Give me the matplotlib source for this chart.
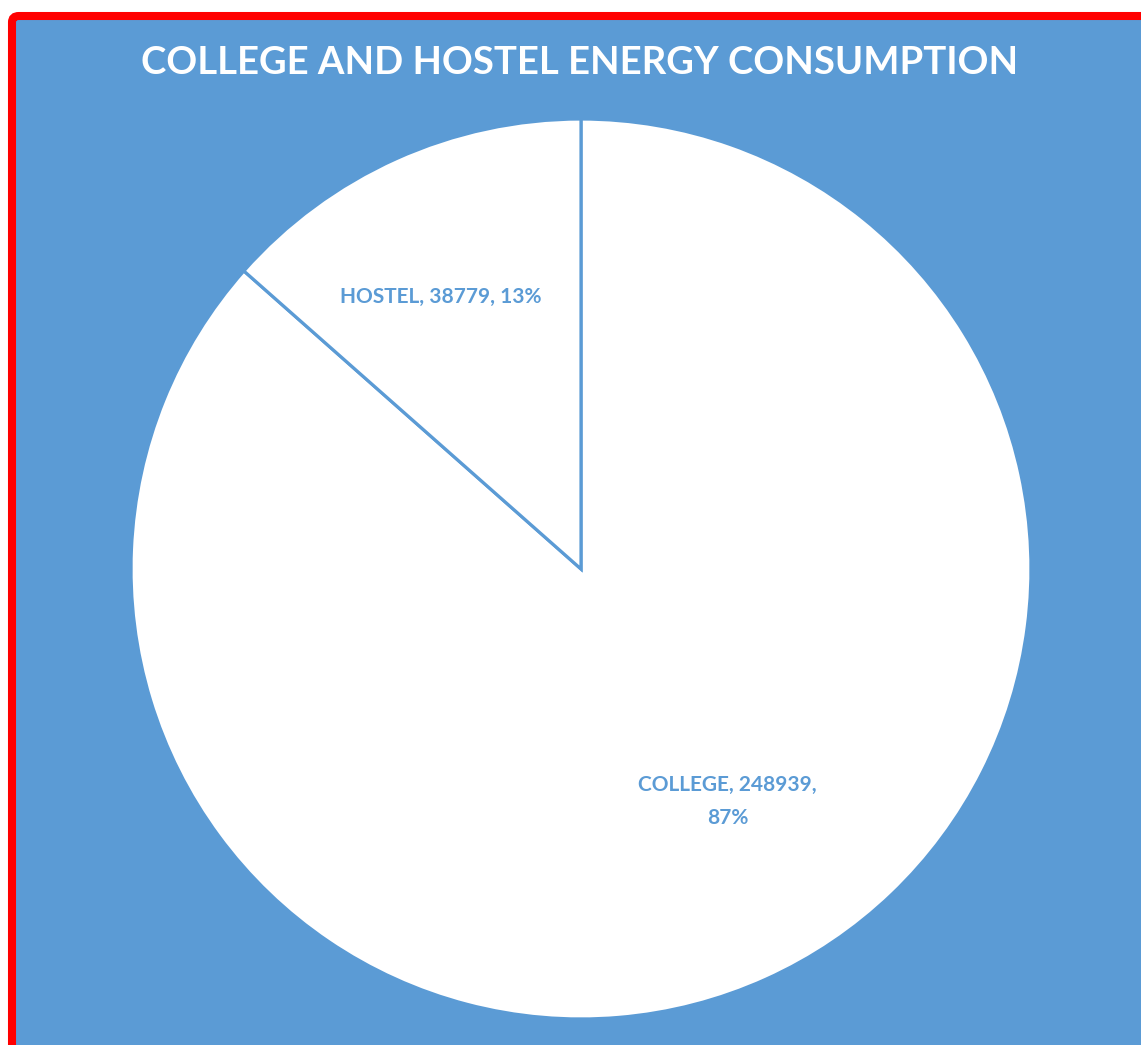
import matplotlib.pyplot as plt
from matplotlib.patches import FancyBboxPatch
import numpy as np

# data
labels = ['COLLEGE', 'HOSTEL']
values = [248939, 38779]
title = 'COLLEGE AND HOSTEL ENERGY CONSUMPTION'

bg = '#5B9BD5'
plt.rcParams['font.family'] = ['Lato', 'DejaVu Sans']

fig = plt.figure(figsize=(11.41, 10.45), dpi=100)
fig.patch.set_facecolor('white')

# chart area with red border (only top and left are in frame)
frame = FancyBboxPatch((12 / 1141, -0.05), 1.2, (1045 - 16) / 1045 + 0.05,
                       boxstyle='round,pad=0,rounding_size=0.006',
                       transform=fig.transFigure, facecolor=bg,
                       edgecolor='#FF0000', linewidth=5.8, zorder=-5)
fig.patches.append(frame)

fig.text(580 / 1141, 1 - 63 / 1045, title, color='white', fontsize=27.5,
         fontweight='bold', ha='center', va='center')

ax = fig.add_axes([131 / 1141, 26 / 1045, 900 / 1141, 900 / 1045])
ax.set_zorder(2)
ax.set_facecolor('none')
wedges, _ = ax.pie(values, startangle=90, counterclock=False,
                   colors=['white', 'white'],
                   wedgeprops=dict(edgecolor=bg, linewidth=2.3))
ax.set_xlim(-1, 1)
ax.set_ylim(-1, 1)
ax.set_aspect('equal')
ax.axis('off')

total = sum(values)
# label placement: radius and angle shift from the wedge middle
place = {'COLLEGE': (0.61, 8), 'HOSTEL': (0.68, 3)}
for w, lab, v in zip(wedges, labels, values):
    pct = round(100 * v / total)
    mid = (w.theta1 + w.theta2) / 2
    r, shift = place[lab]
    a = np.deg2rad(mid + shift)
    if lab == 'COLLEGE':
        txt = f'{lab}, {v},\n{pct}%'
    else:
        txt = f'{lab}, {v}, {pct}%'
    ax.text(r * np.cos(a), r * np.sin(a), txt, color=bg, fontsize=15,
            fontweight='bold', ha='center', va='center', linespacing=1.8)

fig.savefig('out.png', dpi=100, facecolor='white')
